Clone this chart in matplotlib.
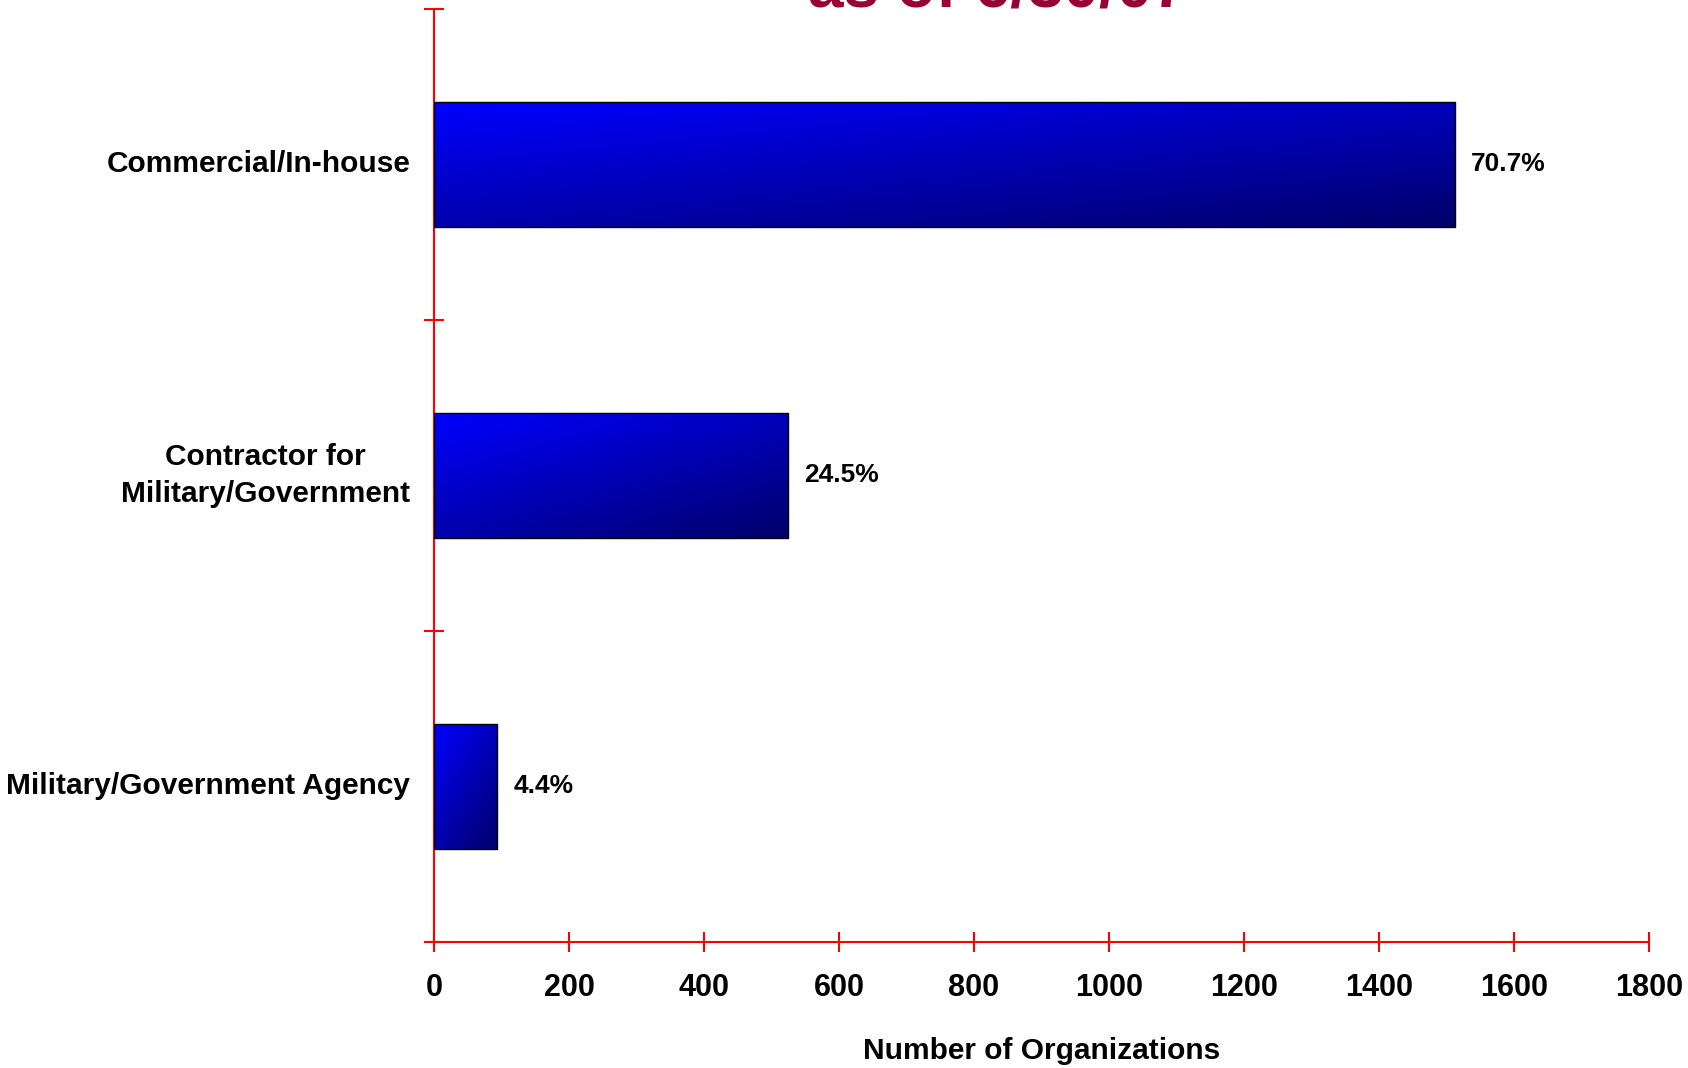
import numpy as np
import matplotlib.pyplot as plt
from matplotlib.colors import LinearSegmentedColormap

plt.rcParams['font.family'] = ['Liberation Sans', 'DejaVu Sans']
plt.rcParams['font.weight'] = 'bold'

# Data
categories = ['Commercial/In-house', 'Contractor for\nMilitary/Government', 'Military/Government Agency']
counts = [1512, 524, 94]
pct_labels = ['70.7%', '24.5%', '4.4%']
xticks = [0, 200, 400, 600, 800, 1000, 1200, 1400, 1600, 1800]

fig = plt.figure(figsize=(16.88, 10.68), dpi=100)
ax = fig.add_axes([0.2571, 0.118, 0.7198, 0.8736])

ypos = np.arange(len(categories))
bars = ax.barh(ypos, counts, height=0.4, color='none', edgecolor='black', linewidth=1.0, zorder=3)

# diagonal blue gradient inside each bar
cmap = LinearSegmentedColormap.from_list('bluegrad', ['#0000FF', '#00006A'])
u = np.linspace(0, 1, 200)
v = np.linspace(0, 1, 60)
U, V = np.meshgrid(u, v)
grad = 0.45 * U + 0.55 * V
for b in bars:
    x0, y0 = b.get_x(), b.get_y()
    w, h = b.get_width(), b.get_height()
    im = ax.imshow(grad, cmap=cmap, extent=[x0, x0 + w, y0 + h, y0], origin='upper',
                   aspect='auto', zorder=2, interpolation='bilinear')
    im.set_clip_path(b)

for yi, c, lab in zip(ypos, counts, pct_labels):
    ax.annotate(lab, xy=(c, yi), xytext=(12, 0), textcoords='offset points',
                va='center', ha='left', fontsize=19, fontweight='bold')

# category labels, right aligned next to the axis
for yi, cat in zip(ypos, categories):
    ax.annotate(cat, xy=(0, yi), xycoords=('axes fraction', 'data'), xytext=(-17, 0),
                textcoords='offset points', ha='right', va='center',
                multialignment='center', fontsize=21.5, fontweight='bold',
                linespacing=1.4)

ax.set_xlim(0, 1800)
ax.set_ylim(2.5, -0.5)
ax.set_aspect('auto')

ax.set_xticks(xticks)
ax.set_xticklabels([str(t) for t in xticks], fontsize=22, fontweight='bold')
ax.set_yticks([-0.5, 0.5, 1.5, 2.5])
ax.set_yticklabels([])
ax.tick_params(axis='both', which='major', direction='inout', length=14, width=1.5, colors='red')
ax.tick_params(axis='x', labelcolor='black', pad=15)

for s in ['top', 'right']:
    ax.spines[s].set_visible(False)
for s in ['left', 'bottom']:
    ax.spines[s].set_color('red')
    ax.spines[s].set_linewidth(1.5)

ax.set_xlabel('Number of Organizations', fontsize=21.5, fontweight='bold', labelpad=25)

fig.text(0.591, 0.9935, 'as of 6/30/07', ha='center', va='baseline', color='#990033',
         fontsize=46, fontweight='bold')

fig.savefig('out.png', dpi=100)
